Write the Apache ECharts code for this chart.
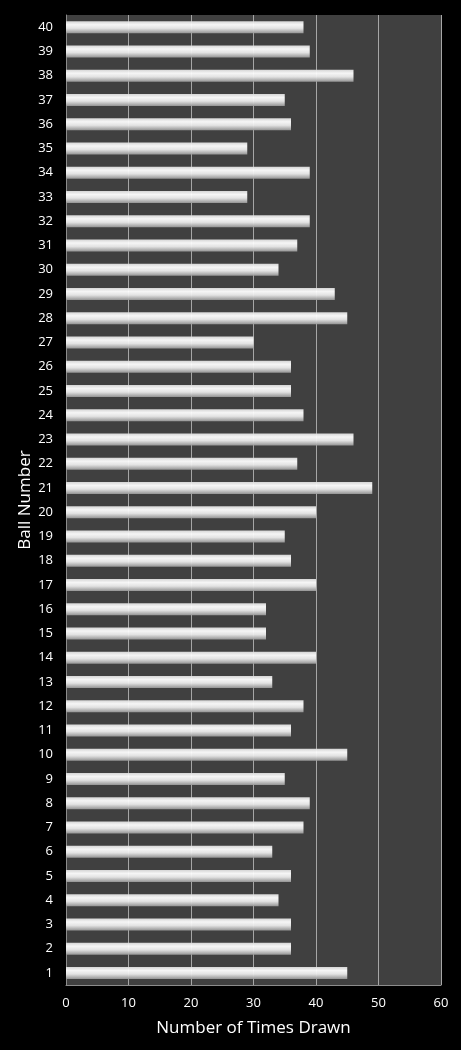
<!DOCTYPE html>
<html>
<head>
<meta charset="utf-8">
<script src="https://cdn.jsdelivr.net/npm/echarts@6/dist/echarts.min.js"></script>
<style>
  html, body { margin: 0; padding: 0; background: #000; }
  #chart { width: 461px; height: 1050px; }
</style>
</head>
<body>
<div id="chart"></div>
<script>
// ball numbers, bottom to top
const balls = []
for (let i = 1; i <= 40; i++) balls.push(String(i))

// times drawn per ball, 1..40
const timesDrawn = [
  45, 36, 36, 34, 36, 33, 38, 39, 35, 45,
  36, 38, 33, 40, 32, 32, 40, 36, 35, 40,
  49, 37, 46, 38, 36, 36, 30, 45, 43, 34,
  37, 39, 29, 39, 29, 36, 35, 46, 39, 38
]

const xTicks = [0, 10, 20, 30, 40, 50, 60]

const font = "'Open Sans', 'Noto Sans', sans-serif"

const chart = echarts.init(document.getElementById("chart"), null, { renderer: "canvas" })

chart.setOption({
  backgroundColor: "#000",
  animation: false,
  grid: {
    left: 66, right: 20, top: 15, bottom: 65,
    show: true,
    backgroundColor: "#404040",
    borderWidth: 0
  },
  xAxis: {
    type: "value",
    min: xTicks[0],
    max: xTicks[xTicks.length - 1],
    interval: 10,
    name: "Number of Times Drawn",
    nameLocation: "middle",
    nameGap: 35,
    nameTextStyle: { color: "#fff", fontSize: 17, fontFamily: font },
    axisLine: { show: true, lineStyle: { color: "#8c8c8c", width: 1 } },
    axisTick: { show: false },
    axisLabel: { color: "#fff", fontSize: 13, fontFamily: font, margin: 12 },
    splitLine: { show: true, lineStyle: { color: "#a6a6a6", width: 1 } }
  },
  yAxis: {
    type: "category",
    data: balls,
    name: "Ball Number",
    nameLocation: "middle",
    nameGap: 32,
    nameMoveOverlap: false,
    nameRotate: 90,
    nameTextStyle: { color: "#fff", fontSize: 17, fontFamily: font },
    axisLine: { show: true, lineStyle: { color: "#8c8c8c", width: 1 } },
    axisTick: { show: false },
    axisLabel: { color: "#fff", fontSize: 13, fontFamily: font, margin: 13, interval: 0 },
    splitLine: { show: false }
  },
  series: [{
    type: "bar",
    data: timesDrawn,
    barWidth: 12,
    itemStyle: {
      opacity: 0.95,
      color: new echarts.graphic.LinearGradient(0, 0, 0, 1, [
        { offset: 0, color: "#dcdcdc" },
        { offset: 0.3, color: "#ffffff" },
        { offset: 0.6, color: "#ebebeb" },
        { offset: 1, color: "#9a9a9a" }
      ])
    }
  }]
})
</script>
</body>
</html>
